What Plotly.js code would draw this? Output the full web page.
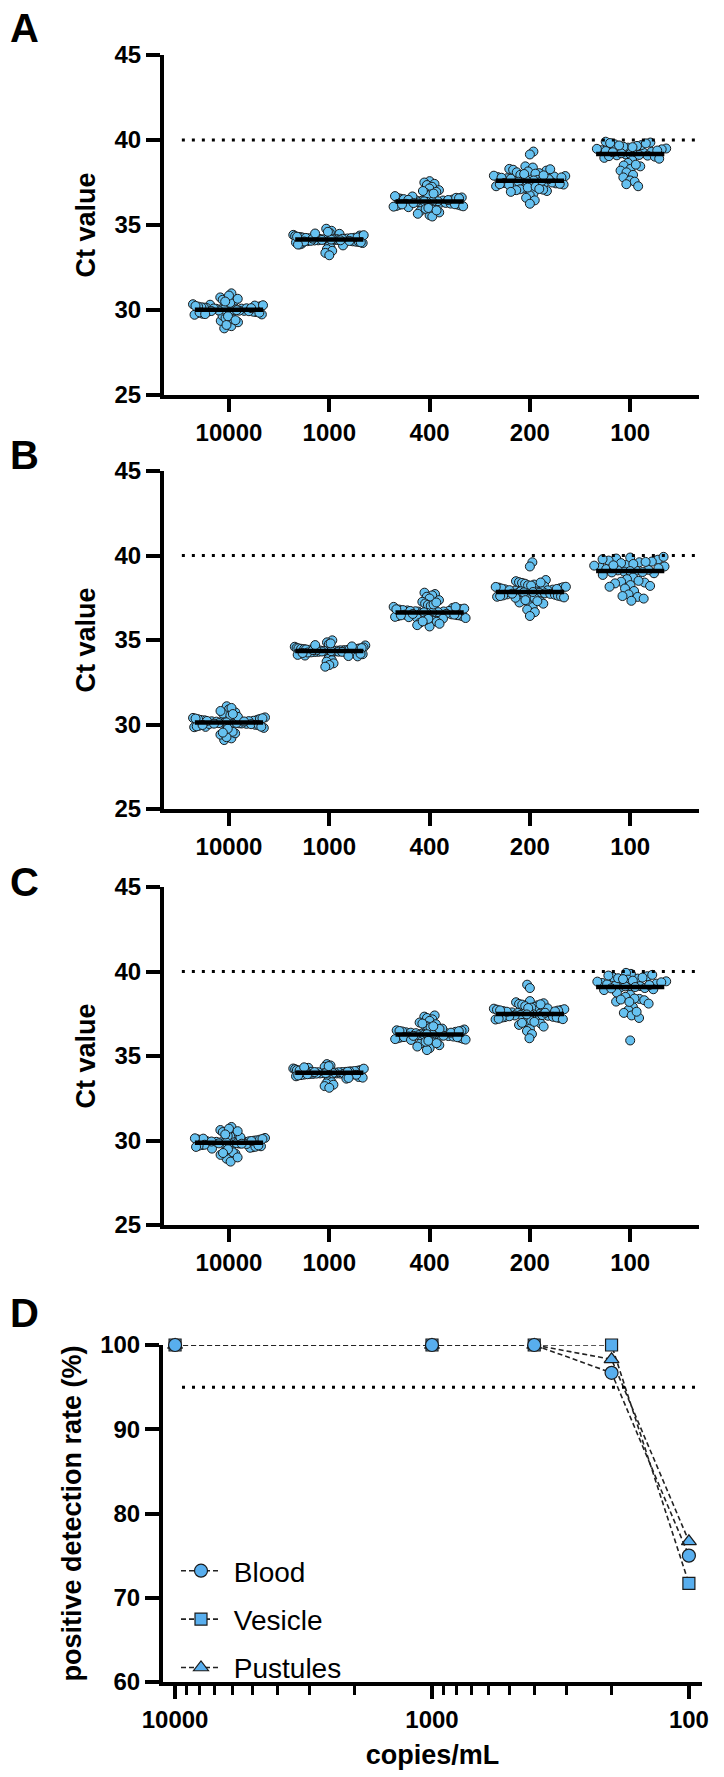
<!DOCTYPE html>
<html>
<head>
<meta charset="utf-8">
<script src="https://cdn.plot.ly/plotly-3.0.1.min.js"></script>
<style>html,body{margin:0;padding:0;background:#fff;}#chart{width:724px;height:1777px;}</style>
</head>
<body>
<div id="chart"></div>
<script>
// ---------------- data ----------------
const categories = ['10000', '1000', '400', '200', '100'];
const ctTicks = [25, 30, 35, 40, 45];
const ctCutoff = 40;

// Panel A
const A_10000 = [30.05, 29.92, 30.18, 30.31, 29.74, 30.02, 30.46, 29.58, 30.12, 29.95,
  30.98, 30.74, 30.55, 29.21, 29.05, 28.92, 29.36, 30.08, 30.22, 29.88,
  30.0, 30.14, 29.67, 30.38, 29.81, 30.26, 30.04, 29.96, 29.45, 30.6,
  30.1, 29.9, 30.01, 29.99, 30.16, 29.84, 30.28, 29.72, 30.42, 29.52,
  30.07, 29.93, 30.2, 29.78, 30.85, 29.28, 29.12, 30.03, 29.97, 30.11,
  29.86, 30.34, 29.63, 30.5, 29.4, 30.09, 29.94, 30.24, 29.76, 30.66];
const A_1000 = [34.15, 34.22, 34.08, 34.3, 34.18, 34.12, 34.25, 34.05, 34.2, 34.1,
  34.78, 34.66, 34.55, 34.48, 34.42, 34.38, 34.35, 34.33, 34.28, 34.26,
  34.24, 34.21, 34.19, 34.17, 34.16, 34.14, 34.13, 34.11, 34.09, 34.07,
  34.04, 34.02, 34.0, 33.97, 33.94, 33.9, 33.86, 33.8, 33.74, 33.66,
  33.58, 33.48, 33.36, 33.22, 34.16, 34.23, 34.12, 34.27, 34.06, 34.19,
  34.31, 34.14, 34.1, 34.2, 34.03, 34.4, 33.98, 34.6, 33.85, 34.5];
const A_400 = [36.35, 36.42, 36.28, 36.5, 36.2, 36.38, 36.15, 36.55, 36.31, 36.45,
  37.58, 37.5, 37.42, 37.35, 37.25, 37.15, 37.05, 36.95, 36.88, 36.8,
  36.74, 36.68, 36.62, 36.58, 36.52, 36.48, 36.44, 36.4, 36.37, 36.33,
  36.3, 36.26, 36.22, 36.18, 36.12, 36.08, 36.02, 35.96, 35.9, 35.82,
  35.74, 35.66, 35.58, 35.5, 36.36, 36.25, 36.47, 36.1, 36.6, 36.05,
  36.39, 36.29, 36.7, 35.95, 36.85, 36.21, 36.57, 36.0, 37.0, 35.86];
const A_200 = [37.6, 37.68, 37.52, 37.75, 37.45, 37.82, 37.38, 37.9, 37.3, 37.98,
  39.32, 39.15, 38.45, 38.38, 38.3, 38.25, 38.2, 38.15, 38.1, 38.05,
  38.02, 37.95, 37.88, 37.85, 37.78, 37.72, 37.65, 37.62, 37.58, 37.55,
  37.5, 37.47, 37.42, 37.35, 37.28, 37.22, 37.15, 37.1, 37.05, 37.0,
  36.95, 36.85, 36.75, 36.6, 36.45, 36.25, 37.63, 37.57, 37.7, 37.4,
  38.0, 37.2, 38.28, 37.08, 37.8, 37.25, 37.92, 37.12];
const A_100 = [39.1, 39.25, 38.95, 39.4, 39.05, 39.55, 39.15, 39.7, 39.2, 39.85,
  39.9, 39.8, 39.75, 39.65, 39.6, 39.5, 39.45, 39.35, 39.3, 39.22,
  39.18, 39.12, 39.08, 39.02, 38.9, 38.8, 38.65, 38.5, 38.45, 38.3,
  38.2, 38.1, 37.95, 37.8, 37.62, 37.55, 37.4, 37.28, 39.28, 39.48,
  39.68, 39.38, 39.82, 39.58, 38.55];

// Panel B
const B_10000 = [30.15, 30.04, 30.28, 30.42, 29.86, 30.12, 30.58, 29.7, 30.22, 30.06,
  31.08, 30.9, 30.72, 29.33, 29.18, 29.08, 29.48, 30.19, 30.33, 29.98,
  30.1, 30.25, 29.8, 30.5, 29.93, 30.37, 30.14, 30.07, 29.57, 30.65,
  30.2, 30.02, 30.11, 30.09, 30.27, 29.95, 30.39, 29.84, 30.54, 29.64,
  30.17, 30.03, 30.31, 29.89, 30.98, 29.4, 29.25, 30.13, 30.08, 30.21,
  29.97, 30.45, 29.75, 30.62, 29.52, 30.18, 30.05, 30.35, 29.87, 30.8];
const B_1000 = [34.35, 34.42, 34.28, 34.5, 34.38, 34.32, 34.45, 34.25, 34.4, 34.3,
  34.98, 34.86, 34.75, 34.68, 34.6, 34.56, 34.53, 34.51, 34.48, 34.46,
  34.44, 34.41, 34.39, 34.37, 34.36, 34.34, 34.33, 34.31, 34.29, 34.27,
  34.24, 34.22, 34.2, 34.16, 34.12, 34.08, 34.03, 33.96, 33.88, 33.8,
  33.72, 33.62, 33.52, 33.42, 34.36, 34.43, 34.32, 34.47, 34.26, 34.39,
  34.52, 34.34, 34.3, 34.4, 34.23, 34.62, 34.18, 34.8, 34.05, 34.7];
const B_400 = [36.6, 36.68, 36.52, 36.75, 36.45, 36.63, 36.4, 36.8, 36.56, 36.7,
  37.8, 37.72, 37.64, 37.56, 37.46, 37.36, 37.26, 37.16, 37.08, 37.02,
  36.96, 36.9, 36.85, 36.82, 36.77, 36.72, 36.69, 36.65, 36.62, 36.58,
  36.55, 36.5, 36.47, 36.42, 36.37, 36.32, 36.27, 36.2, 36.14, 36.08,
  36.02, 35.96, 35.88, 35.8, 36.61, 36.5, 36.72, 36.35, 36.86, 36.3,
  36.64, 36.54, 36.95, 36.18, 37.1, 36.46, 36.82, 36.25, 37.22, 36.1];
const B_200 = [37.85, 37.92, 37.78, 38.0, 37.7, 38.06, 37.64, 38.12, 37.56, 38.2,
  39.6, 39.35, 38.55, 38.48, 38.42, 38.38, 38.33, 38.28, 38.24, 38.18,
  38.15, 38.1, 38.04, 37.98, 37.94, 37.9, 37.87, 37.83, 37.8, 37.76,
  37.73, 37.68, 37.62, 37.58, 37.52, 37.46, 37.4, 37.34, 37.28, 37.22,
  37.15, 37.05, 36.95, 36.8, 36.65, 36.42, 37.88, 37.82, 37.95, 37.6,
  38.22, 37.48, 38.4, 37.3, 38.02, 37.5, 38.14, 37.36, 37.84, 37.74];
const B_100 = [39.1, 39.3, 38.95, 39.45, 39.05, 39.6, 39.2, 39.75, 39.15, 39.88,
  39.92, 39.82, 39.7, 39.64, 39.55, 39.5, 39.4, 39.35, 39.25, 39.12,
  39.08, 39.0, 38.85, 38.7, 38.6, 38.45, 38.35, 38.25, 38.15, 38.05,
  37.9, 37.7, 37.55, 37.45, 37.32, 39.62, 39.78, 39.42, 38.4, 38.5,
  38.2, 37.6, 39.02];

// Panel C
const C_10000 = [29.9, 29.78, 30.02, 30.15, 29.6, 29.86, 30.3, 29.44, 29.96, 29.8,
  30.8, 30.62, 30.45, 29.08, 28.92, 28.75, 29.22, 29.93, 30.07, 29.73,
  29.85, 29.99, 29.52, 30.24, 29.66, 30.11, 29.89, 29.82, 29.3, 30.5,
  29.95, 29.75, 29.87, 29.84, 30.01, 29.69, 30.13, 29.57, 30.27, 29.37,
  29.92, 29.79, 30.05, 29.63, 30.7, 29.15, 29.0, 29.88, 29.83, 29.97,
  29.71, 30.19, 29.48, 30.36, 29.26, 29.94, 29.81, 30.09, 29.62, 30.55];
const C_1000 = [34.0, 34.06, 33.94, 34.12, 34.03, 33.97, 34.09, 33.91, 34.05, 33.96,
  34.52, 34.44, 34.36, 34.3, 34.26, 34.22, 34.19, 34.17, 34.15, 34.13,
  34.11, 34.08, 34.07, 34.04, 34.02, 34.01, 33.99, 33.98, 33.95, 33.93,
  33.9, 33.87, 33.84, 33.8, 33.76, 33.72, 33.66, 33.6, 33.52, 33.45,
  33.38, 33.3, 33.22, 33.12, 34.01, 34.07, 33.97, 34.1, 33.92, 34.04,
  34.14, 33.99, 33.96, 34.05, 33.89, 34.25, 33.85, 34.4, 33.7, 34.33];
const C_400 = [36.25, 36.32, 36.18, 36.4, 36.1, 36.28, 36.05, 36.45, 36.21, 36.36,
  37.4, 37.33, 37.25, 37.17, 37.08, 36.98, 36.88, 36.8, 36.74, 36.68,
  36.62, 36.57, 36.52, 36.48, 36.43, 36.38, 36.35, 36.3, 36.27, 36.23,
  36.2, 36.16, 36.12, 36.08, 36.02, 35.97, 35.92, 35.86, 35.8, 35.72,
  35.64, 35.56, 35.46, 35.35, 36.26, 36.15, 36.38, 36.0, 36.5, 35.95,
  36.29, 36.19, 36.6, 35.84, 36.76, 36.11, 36.47, 35.9, 36.92, 35.76];
const C_200 = [37.45, 37.52, 37.38, 37.6, 37.3, 37.66, 37.24, 37.72, 37.16, 37.8,
  39.22, 39.02, 38.25, 38.18, 38.12, 38.08, 38.04, 38.0, 37.95, 37.9,
  37.86, 37.82, 37.77, 37.74, 37.69, 37.64, 37.58, 37.55, 37.5, 37.47,
  37.43, 37.4, 37.35, 37.32, 37.27, 37.2, 37.12, 37.06, 37.0, 36.92,
  36.84, 36.74, 36.62, 36.48, 36.3, 36.05, 37.48, 37.42, 37.56, 37.28,
  37.84, 37.1, 38.06, 36.96, 37.62, 37.18, 37.7, 37.02, 37.46];
const C_100 = [39.1, 39.28, 38.95, 39.42, 39.05, 39.58, 39.18, 39.72, 39.14, 39.86,
  39.92, 39.8, 39.66, 39.6, 39.52, 39.46, 39.36, 39.32, 39.24, 39.12,
  39.08, 39.02, 38.9, 38.75, 38.62, 38.5, 38.38, 38.3, 38.22, 38.1,
  37.9, 37.72, 37.55, 37.4, 37.25, 35.92, 39.64, 39.76, 39.4, 38.4,
  38.34, 37.62, 39.0, 39.2, 39.55, 38.2];

// Panel D
const copies = [10000, 1000, 400, 200, 100];
const blood = [100, 100, 100, 96.7, 75.0];
const vesicle = [100, 100, 100, 100, 71.7];
const pustules = [100, 100, 100, 98.3, 76.7];
const rateTicks = [60, 70, 80, 90, 100];
const rateCutoff = 95;
const copyTicks = [10000, 1000, 100];
const copyMinorTicks = [9000, 8000, 7000, 6000, 5000, 4000, 3000, 2000, 900, 800, 700, 600, 500, 400, 300, 200];

// ---------------- drawing ----------------
const W = 724, H = 1777;
const FONT = 'Liberation Sans, Arial, Helvetica, sans-serif';
const PTFILL = '#66C1F0';
const DFILL = '#58AEEE';
const EDGE = '#1a1a1a';

const panels = [
  {sets: [A_10000, A_1000, A_400, A_200, A_100], top: 55, bottom: 395, letter: 'A', ly: 28},
  {sets: [B_10000, B_1000, B_400, B_200, B_100], top: 471, bottom: 809, letter: 'B', ly: 455},
  {sets: [C_10000, C_1000, C_400, C_200, C_100], top: 887, bottom: 1225, letter: 'C', ly: 882}
];
const axL = 164, axR = 699;
const xRange = [-0.648, 4.686];

function median(a) {
  const s = a.slice().sort((p, q) => p - q);
  const n = s.length;
  return n % 2 ? s[(n - 1) / 2] : (s[n / 2 - 1] + s[n / 2]) / 2;
}

// beeswarm layout in pixel space (deterministic)
function swarm(vals, pxPerX, pxPerY, d, maxHalf) {
  const med = median(vals);
  const order = vals.map((v, i) => ({v, i})).sort((a, b) => Math.abs(a.v - med) - Math.abs(b.v - med));
  const placed = [];
  const xs = new Array(vals.length);
  let flip = 1;
  for (const p of order) {
    const y = p.v * pxPerY;
    const near = placed.filter(q => Math.abs(q.y - y) < d);
    const cands = [0];
    for (const q of near) {
      const dx = Math.sqrt(d * d - (q.y - y) * (q.y - y));
      cands.push(q.x + dx, q.x - dx);
    }
    cands.sort((a, b) => (Math.abs(a) - Math.abs(b)) || (flip * (a - b)));
    let x = cands.find(c => near.every(q => (q.x - c) ** 2 + (q.y - y) ** 2 >= d * d - 1e-6));
    if (x === undefined) x = 0;
    flip = -flip;
    placed.push({x, y});
    xs[p.i] = x;
  }
  const mx = Math.max(...xs.map(Math.abs), 1e-9);
  const k = mx > maxHalf ? maxHalf / mx : 1;
  return xs.map(x => x * k / pxPerX);
}

const traces = [];
const layout = {
  width: W, height: H,
  margin: {l: 0, r: 0, t: 0, b: 0},
  paper_bgcolor: '#fff', plot_bgcolor: 'rgba(0,0,0,0)',
  showlegend: true,
  font: {family: FONT, color: '#000'},
  shapes: [], annotations: []
};

const axisCommon = {
  showline: true, linewidth: 4, linecolor: '#000', mirror: false,
  ticks: 'outside', tickwidth: 4, tickcolor: '#000',
  showgrid: false, zeroline: false, fixedrange: true,
  tickfont: {family: FONT, size: 24, color: '#000', weight: 'bold'}
};

panels.forEach((pn, k) => {
  const idx = k + 1;
  const xa = idx === 1 ? 'x' : 'x' + idx;
  const ya = idx === 1 ? 'y' : 'y' + idx;
  const pxPerX = (axR - axL) / (xRange[1] - xRange[0]);
  const pxPerY = (pn.bottom - pn.top) / 20;
  pn.sets.forEach((vals, ci) => {
    const offs = swarm(vals, pxPerX, pxPerY, 7.2, 36);
    traces.push({
      type: 'scatter', mode: 'markers', xaxis: xa, yaxis: ya, showlegend: false,
      x: offs.map(o => ci + o), y: vals, cliponaxis: false,
      marker: {size: 9, color: PTFILL, line: {width: 1, color: EDGE}},
      hoverinfo: 'y'
    });
  });
  pn.sets.forEach((vals, ci) => {
    const m = median(vals);
    traces.push({
      type: 'scatter', mode: 'lines', xaxis: xa, yaxis: ya, showlegend: false,
      x: [ci - 0.34, ci + 0.34], y: [m, m], cliponaxis: false,
      line: {color: '#000', width: 4.5}, hoverinfo: 'skip'
    });
  });
  layout['xaxis' + (idx === 1 ? '' : idx)] = Object.assign({}, axisCommon, {
    domain: [axL / W, axR / W], anchor: ya, range: xRange,
    tickmode: 'array', tickvals: categories.map((c, i) => i), ticktext: categories,
    ticklen: 13
  });
  layout['yaxis' + (idx === 1 ? '' : idx)] = Object.assign({}, axisCommon, {
    domain: [1 - pn.bottom / H, 1 - pn.top / H], anchor: xa, range: [25, 45],
    tickmode: 'array', tickvals: ctTicks, ticklen: 14,
    title: {text: 'Ct value', font: {family: FONT, size: 27, weight: 'bold', color: '#000'}, standoff: 12}
  });
  layout.shapes.push({
    type: 'line', xref: xa, yref: ya, x0: -0.47, x1: 4.65, y0: ctCutoff, y1: ctCutoff,
    line: {color: '#000', width: 3, dash: '3px,7px'}
  });
  layout.annotations.push({
    xref: 'paper', yref: 'paper', x: 8 / W, y: 1 - pn.ly / H, xanchor: 'left', yanchor: 'middle',
    text: pn.letter, showarrow: false, font: {family: FONT, size: 40, weight: 'bold', color: '#000'}
  });
});

// Panel D
const dTop = 1345, dBottom = 1682, dL = 163, dR = 702;
const dSeries = [
  {name: 'Vesicle', y: vesicle, symbol: 'square', size: 12, rank: 2},
  {name: 'Pustules', y: pustules, symbol: 'triangle-up', size: 13, rank: 3},
  {name: 'Blood', y: blood, symbol: 'circle', size: 13, rank: 1}
];
dSeries.forEach(s => {
  traces.push({
    type: 'scatter', mode: 'lines+markers', xaxis: 'x4', yaxis: 'y4',
    name: '\u00A0' + s.name, legendrank: s.rank, legendgroup: s.name,
    x: copies, y: s.y, cliponaxis: false,
    line: {color: '#222', width: 1.6, dash: '5px,3px'},
    marker: {symbol: s.symbol, size: s.size, color: DFILL, line: {width: 1.2, color: EDGE}}
  });
});
layout.xaxis4 = Object.assign({}, axisCommon, {
  domain: [dL / W, dR / W], anchor: 'y4', type: 'log', range: [4.047, 1.949],
  tickmode: 'array', tickvals: copyTicks, ticktext: copyTicks.map(String), ticklen: 13,
  minor: {tickmode: 'array', tickvals: copyMinorTicks, ticks: 'outside', ticklen: 9, tickwidth: 3, tickcolor: '#000', showgrid: false},
  title: {text: 'copies/mL', font: {family: FONT, size: 27, weight: 'bold', color: '#000'}, standoff: 14}
});
layout.yaxis4 = Object.assign({}, axisCommon, {
  domain: [1 - dBottom / H, 1 - dTop / H], anchor: 'x4', range: [60, 100],
  tickmode: 'array', tickvals: rateTicks, ticklen: 14,
  title: {text: 'positive detection rate (%)', font: {family: FONT, size: 27, weight: 'bold', color: '#000'}, standoff: 12}
});
layout.shapes.push({
  type: 'line', xref: 'paper', yref: 'y4', x0: 182 / W, x1: 699 / W, y0: rateCutoff, y1: rateCutoff,
  line: {color: '#000', width: 3, dash: '3px,7px'}
});
layout.annotations.push({
  xref: 'paper', yref: 'paper', x: 8 / W, y: 1 - 1313 / H, xanchor: 'left', yanchor: 'middle',
  text: 'D', showarrow: false, font: {family: FONT, size: 40, weight: 'bold', color: '#000'}
});
layout.legend = {
  x: 176 / W, xanchor: 'left', y: 1 - 1546 / H, yanchor: 'top',
  bgcolor: 'rgba(0,0,0,0)', borderwidth: 0,
  font: {family: FONT, size: 28, color: '#000'},
  tracegroupgap: 9, itemwidth: 40, traceorder: 'grouped'
};

Plotly.newPlot('chart', traces, layout, {staticPlot: true, displayModeBar: false});
</script>
</body>
</html>
